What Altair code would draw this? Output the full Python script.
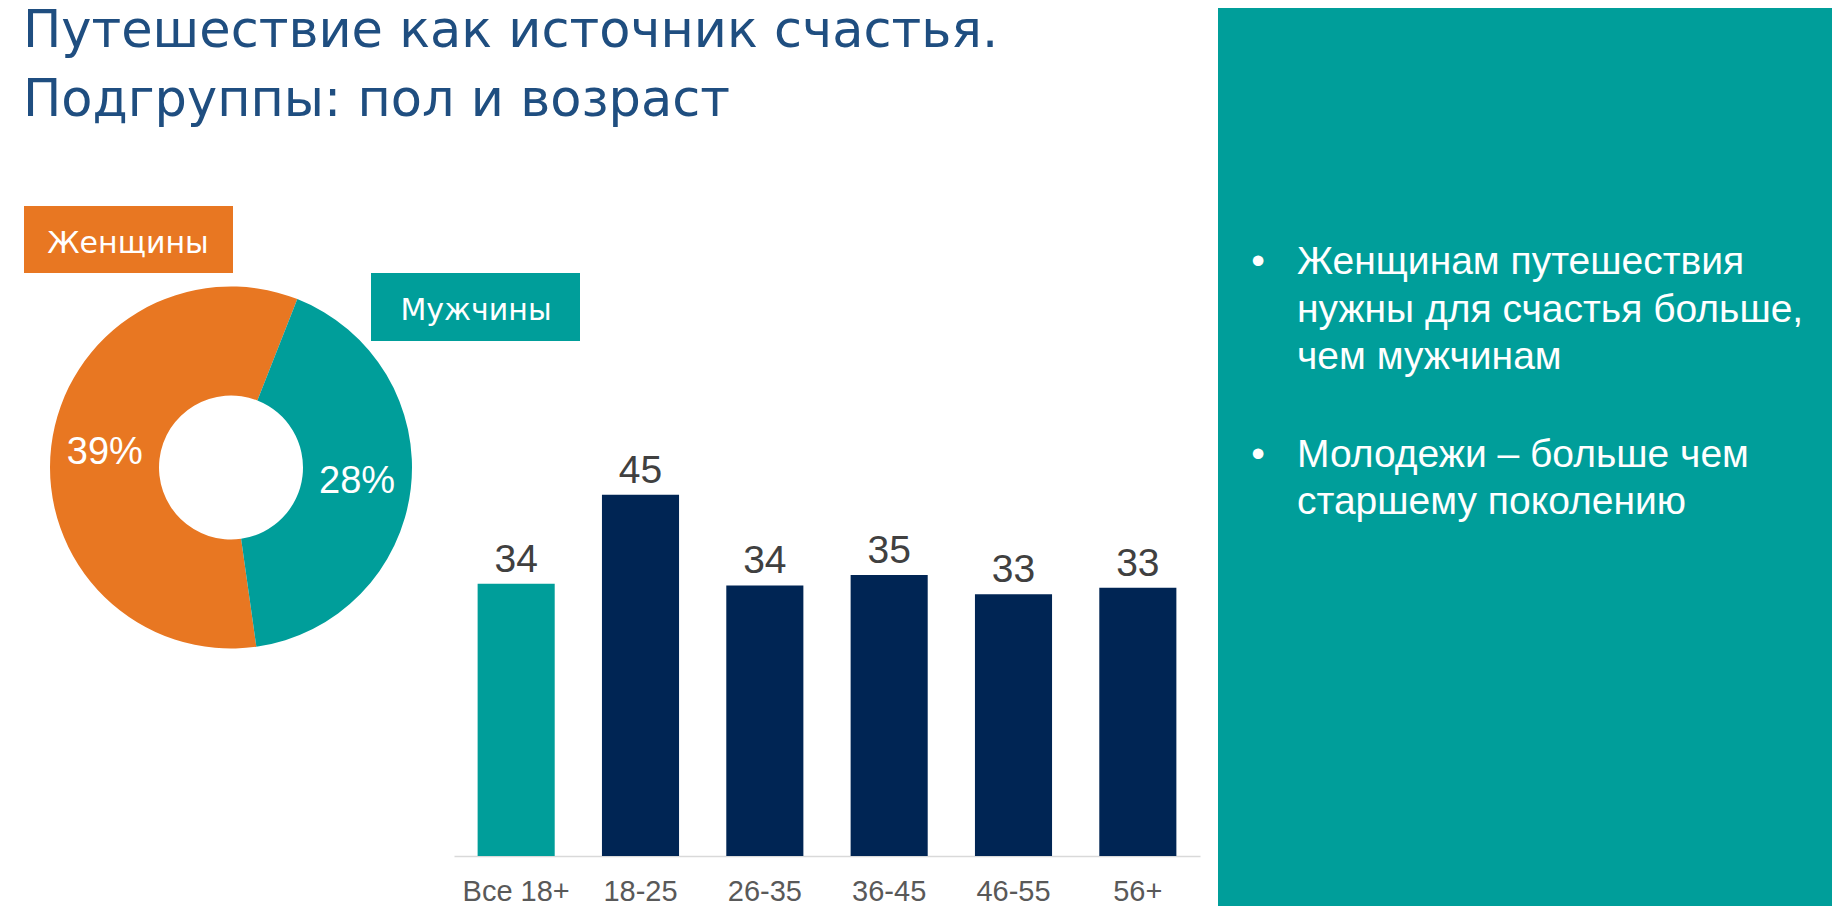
import math
import altair as alt
import pandas as pd

# ---------------- data ----------------
title_lines = ["Путешествие как источник счастья.", "Подгруппы: пол и возраст"]

genders = ["Женщины", "Мужчины"]
gender_pct = [39, 28]
gender_order = [2, 1]

ages = ["Все 18+", "18-25", "26-35", "36-45", "46-55", "56+"]
age_values = [33.9, 45.0, 33.7, 35.0, 32.6, 33.4]
age_kind = ["all", "age", "age", "age", "age", "age"]

bullet1 = ["Женщинам путешествия", "нужны для счастья больше,", "чем мужчинам"]
bullet2 = ["Молодежи – больше чем", "старшему поколению"]

# ---------------- style ----------------
FONT = "Liberation Sans"
WIDE = "DejaVu Sans"
TEAL = "#009E9A"
ORANGE = "#E87722"
NAVY = "#002554"
TITLE_C = "#1F4E80"
W, H = 1824, 898

one = pd.DataFrame({"a": [0]})

# right-hand panel
panel = alt.Chart(one).mark_rect(color=TEAL).encode(
    x=alt.value(1210), x2=alt.value(W), y=alt.value(0), y2=alt.value(H)
)

title = alt.Chart(one).mark_text(
    text=title_lines, align="left", baseline="alphabetic", fontSize=51,
    lineHeight=69, font=WIDE, color=TITLE_C
).encode(x=alt.value(15), y=alt.value(39))

# ---------------- donut ----------------
donut_df = pd.DataFrame({"group": genders, "pct": gender_pct, "ord": gender_order})
start = math.radians(21.5)
theta = alt.Theta("pct:Q", stack=True,
                  scale=alt.Scale(range=[start, start + 2 * math.pi]))
cx, cy = 223, 459.5

arcs = alt.Chart(donut_df).mark_arc(outerRadius=181, innerRadius=72).encode(
    theta=theta,
    order=alt.Order("ord:Q"),
    color=alt.Color("group:N", scale=alt.Scale(domain=genders, range=[ORANGE, TEAL]),
                    legend=None),
    x=alt.value(cx), y=alt.value(cy),
)
arc_labels = alt.Chart(donut_df).transform_calculate(
    label="datum.pct + '%'"
).mark_text(radius=127, fontSize=38, font=FONT, color="white", baseline="middle").encode(
    theta=theta,
    order=alt.Order("ord:Q"),
    text="label:N",
    x=alt.value(cx), y=alt.value(cy),
)
donut = alt.layer(arcs, arc_labels)

# legend boxes
box_w = alt.Chart(one).mark_rect(color=ORANGE).encode(
    x=alt.value(16), x2=alt.value(225), y=alt.value(198), y2=alt.value(265))
txt_w = alt.Chart(one).mark_text(text=genders[0], fontSize=30,
                                 font=WIDE, color="white",
                                 align="center", baseline="alphabetic").encode(
    x=alt.value(120), y=alt.value(245))
box_m = alt.Chart(one).mark_rect(color=TEAL).encode(
    x=alt.value(363), x2=alt.value(572), y=alt.value(265), y2=alt.value(333))
txt_m = alt.Chart(one).mark_text(text=genders[1], fontSize=30,
                                 font=WIDE, color="white",
                                 align="center", baseline="alphabetic").encode(
    x=alt.value(468), y=alt.value(312))

# ---------------- bars ----------------
bar_df = pd.DataFrame({"age": ages, "val": age_values, "kind": age_kind})
xenc = alt.X("age:N", sort=ages,
             scale=alt.Scale(range=[446, 1192], paddingInner=0.38, paddingOuter=0.19),
             axis=alt.Axis(title=None, labelAngle=0, ticks=False, labelPadding=21,
                           labelFontSize=29, labelColor="#595959", labelFont=FONT,
                           domainColor="#D9D9D9", domainWidth=1.5, offset=-50,
                           grid=False))
yenc = alt.Y("val:Q", scale=alt.Scale(domain=[0, 50], range=[848, 446.5]), axis=None)

bars = alt.Chart(bar_df).mark_bar().encode(
    x=xenc, y=yenc,
    color=alt.Color("kind:N", scale=alt.Scale(domain=["all", "age"], range=[TEAL, NAVY]),
                    legend=None),
)
bar_labels = alt.Chart(bar_df).mark_text(
    dy=-12, baseline="alphabetic", fontSize=39, font=FONT, color="#404040"
).encode(x=xenc, y=yenc, text=alt.Text("val:Q", format=".0f"))
barchart = alt.layer(bars, bar_labels)

# ---------------- bullets ----------------
dot1 = alt.Chart(one).mark_text(text="•", fontSize=39, font=FONT, color="white",
                                align="center", baseline="alphabetic").encode(
    x=alt.value(1250), y=alt.value(266))
txt1 = alt.Chart(one).mark_text(text=bullet1, fontSize=39, font=FONT, color="white",
                                align="left", baseline="alphabetic", lineHeight=47.5).encode(
    x=alt.value(1289), y=alt.value(266))
dot2 = alt.Chart(one).mark_text(text="•", fontSize=39, font=FONT, color="white",
                                align="center", baseline="alphabetic").encode(
    x=alt.value(1250), y=alt.value(458.5))
txt2 = alt.Chart(one).mark_text(text=bullet2, fontSize=39, font=FONT, color="white",
                                align="left", baseline="alphabetic", lineHeight=47.5).encode(
    x=alt.value(1289), y=alt.value(458.5))

chart = alt.layer(
    panel, title, donut, box_w, txt_w, box_m, txt_m, barchart, dot1, txt1, dot2, txt2
).resolve_scale(color="independent").properties(
    width=W, height=H, autosize=alt.AutoSizeParams(type="none"), padding=0,
    background="white"
).configure_view(stroke=None)

chart.save("out.html", embed_options={"renderer": "svg", "actions": False})
